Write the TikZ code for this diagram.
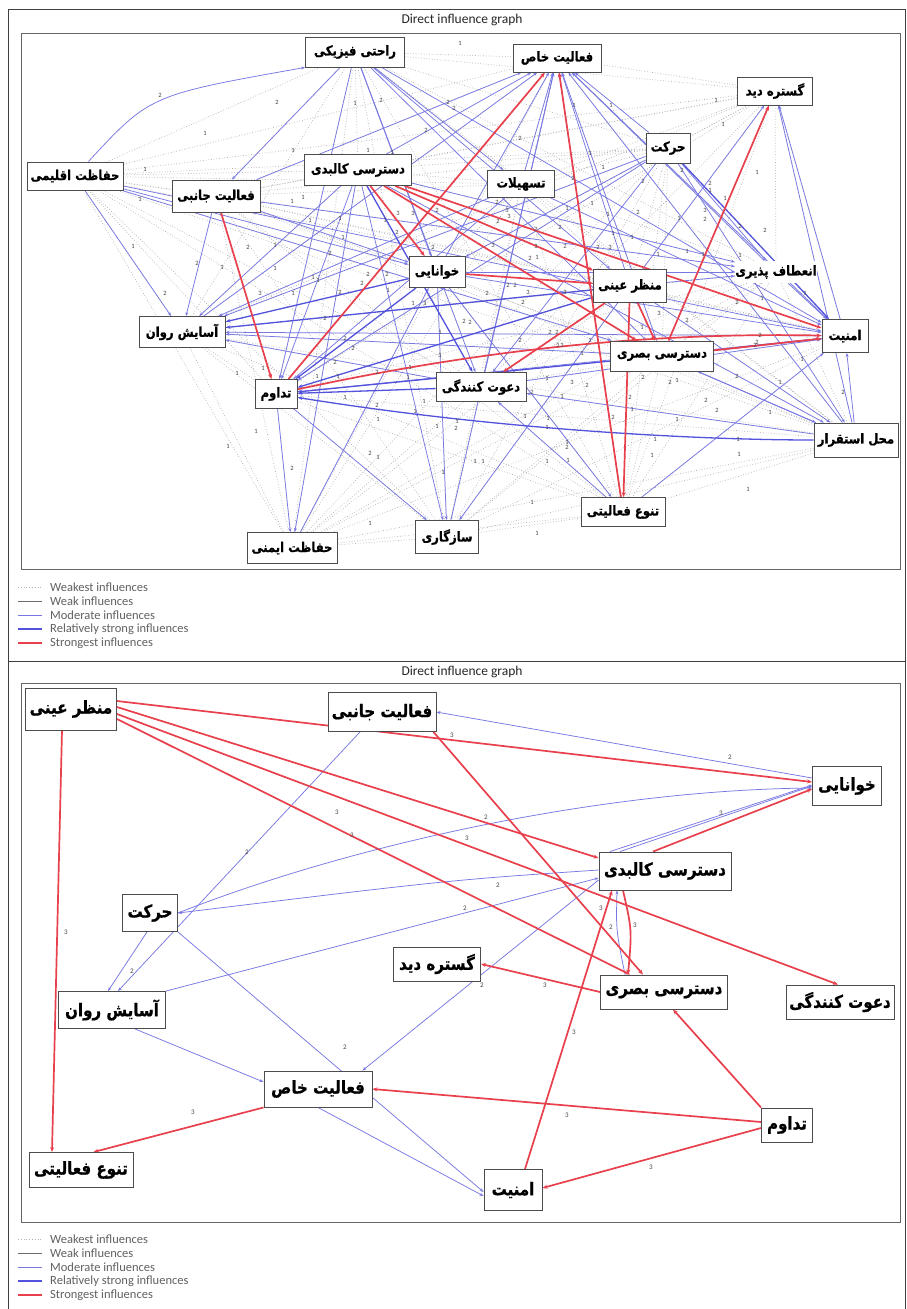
\documentclass[tikz,border=0pt]{standalone}
\usepackage{fontspec}
\setmainfont{Carlito}
\newfontfamily\fa[Script=Arabic,FakeStretch=0.86,BoldFeatures={FakeBold=0.8}]{DejaVu Sans}
\TeXXeTstate=1
\usetikzlibrary{arrows.meta}
\pgfdeclarelayer{bg}\pgfdeclarelayer{edges}\pgfsetlayers{bg,edges,main}
\definecolor{redE}{RGB}{232,64,76}
\definecolor{blueM}{RGB}{120,120,228}
\definecolor{blueS}{RGB}{82,82,220}
\definecolor{grayW}{RGB}{178,178,178}
\definecolor{grayK}{RGB}{110,110,110}
\definecolor{lblc}{RGB}{70,70,70}
\tikzset{
 box/.style={draw=black!70, line width=0.9pt, fill=white, inner sep=0pt, font=\fa\bfseries\fontsize{13.5}{13.5}\selectfont},
 bbox/.style={box, font=\fa\bfseries\fontsize{17.5}{17.5}\selectfont},
 weakest/.style={draw=grayW, dotted, line width=0.7pt},
 moderate/.style={draw=blueM, line width=0.75pt, -{Stealth[length=4pt,width=3pt]}},
 strongish/.style={draw=blueS, line width=1.3pt, -{Stealth[length=5pt,width=3.5pt]}},
 strongest/.style={draw=redE, line width=1.7pt, -{Stealth[length=5pt,width=4pt]}},
 lbl/.style={font=\fontsize{6.5}{6.5}\selectfont, text=lblc, inner sep=0.5pt},
 blbl/.style={font=\fontsize{7}{7}\selectfont, text=lblc, inner sep=0.5pt},
 legtxt/.style={anchor=west, font=\fontsize{12.5}{12.5}\selectfont, text=black!62, inner sep=0pt},
 ttl/.style={font=\fontsize{13.5}{13.5}\selectfont, text=black!85, inner sep=0pt},
}
\begin{document}
\begin{tikzpicture}[x=1pt,y=-1pt]
\useasboundingbox (0,0) rectangle (907,1309);
% ---------------- top panel nodes
\node[box, minimum width=99pt, minimum height=30pt] (A) at (355,52) {\beginR راحتی فیزیکی\endR};
\node[box, minimum width=88pt, minimum height=28pt] (B) at (557,58) {\beginR فعالیت خاص\endR};
\node[box, minimum width=75pt, minimum height=28pt] (C) at (775,91) {\beginR گستره دید\endR};
\node[box, minimum width=44pt, minimum height=30pt] (D) at (668,148) {\beginR حرکت\endR};
\node[box, minimum width=67pt, minimum height=27pt] (E) at (521,184) {\beginR تسهیلات\endR};
\node[box, minimum width=96pt, minimum height=28pt] (F) at (75,176) {\beginR حفاظت اقلیمی\endR};
\node[box, minimum width=88pt, minimum height=32pt] (G) at (216,196) {\beginR فعالیت جانبی\endR};
\node[box, minimum width=107pt, minimum height=31pt] (H) at (358,170) {\beginR دسترسی کالبدی\endR};
\node[box, minimum width=56pt, minimum height=31pt] (I) at (437,272) {\beginR خوانایی\endR};
\node[box, minimum width=73pt, minimum height=33pt] (J) at (630,286) {\beginR منظر عینی\endR};
\node[box, draw=none, minimum width=80pt, minimum height=22pt] (K) at (776,272) {\beginR انعطاف پذیری\endR};
\node[box, minimum width=46pt, minimum height=33pt] (L) at (845,336) {\beginR امنیت\endR};
\node[box, minimum width=86pt, minimum height=31pt] (M) at (182,332) {\beginR آسایش روان\endR};
\node[box, minimum width=103pt, minimum height=30pt] (N) at (662,356) {\beginR دسترسی بصری\endR};
\node[box, minimum width=90pt, minimum height=29pt] (O) at (481,387) {\beginR دعوت کنندگی\endR};
\node[box, minimum width=42pt, minimum height=29pt] (P) at (276,394) {\beginR تداوم\endR};
\node[box, minimum width=84pt, minimum height=34pt] (Q) at (856,440) {\beginR محل استقرار\endR};
\node[box, minimum width=84pt, minimum height=29pt] (R) at (623,512) {\beginR تنوع فعالیتی\endR};
\node[box, minimum width=63pt, minimum height=33pt] (S) at (447,537) {\beginR سازگاری\endR};
\node[box, minimum width=90pt, minimum height=31pt] (T) at (292,548) {\beginR حفاظت ایمنی\endR};
% ---------------- bottom panel nodes
\node[bbox, minimum width=91pt, minimum height=42pt] (bJ) at (71,709) {\beginR منظر عینی\endR};
\node[bbox, minimum width=108pt, minimum height=39pt] (bG) at (382,712) {\beginR فعالیت جانبی\endR};
\node[bbox, minimum width=69pt, minimum height=39pt] (bI) at (847,786) {\beginR خوانایی\endR};
\node[bbox, minimum width=132pt, minimum height=38pt] (bH) at (665,871) {\beginR دسترسی کالبدی\endR};
\node[bbox, minimum width=55pt, minimum height=37pt] (bD) at (150,913) {\beginR حرکت\endR};
\node[bbox, minimum width=87pt, minimum height=34pt] (bC) at (437,964) {\beginR گستره دید\endR};
\node[bbox, minimum width=127pt, minimum height=34pt] (bN) at (664,992) {\beginR دسترسی بصری\endR};
\node[bbox, minimum width=108pt, minimum height=34pt] (bO) at (840,1002) {\beginR دعوت کنندگی\endR};
\node[bbox, minimum width=107pt, minimum height=37pt] (bM) at (112,1010) {\beginR آسایش روان\endR};
\node[bbox, minimum width=108pt, minimum height=36pt] (bB) at (318,1089) {\beginR فعالیت خاص\endR};
\node[bbox, minimum width=51pt, minimum height=34pt] (bP) at (787,1125) {\beginR تداوم\endR};
\node[bbox, minimum width=104pt, minimum height=35pt] (bR) at (81,1170) {\beginR تنوع فعالیتی\endR};
\node[bbox, minimum width=58pt, minimum height=41pt] (bL) at (513,1190) {\beginR امنیت\endR};
% ---------------- titles and legends
\node[ttl] (t1) at (462,20) {Direct influence graph};
\node[ttl] (t2) at (462,672) {Direct influence graph};
\foreach \y/\t [count=\i] in {587/Weakest influences, 601/Weak influences, 615/Moderate influences, 629/Relatively strong influences, 643/Strongest influences}{
  \node[legtxt] (lt\i) at (50,\y) {\t};
  \node[legtxt] (lb\i) at (50,\y+652) {\t};
}
\begin{pgfonlayer}{bg}
\fill[white] (0,0) rectangle (907,1309);
\draw[black!75, line width=1pt] (8,1309) -- (8,9) -- (905,9) -- (905,1309);
\draw[black!75, line width=1pt] (8,661) -- (905,661);
\draw[black!60, line width=1pt] (21,33) rectangle (900,569);
\draw[black!60, line width=1pt] (21,683) rectangle (900,1222);
\foreach \yy in {0,652}{
 \draw[grayW, dotted, line width=0.8pt] (18,587+\yy) -- (42,587+\yy);
 \draw[grayK, line width=0.7pt] (18,601+\yy) -- (42,601+\yy);
 \draw[blueM, line width=0.8pt] (18,615+\yy) -- (42,615+\yy);
 \draw[blueS, line width=1.5pt] (18,629+\yy) -- (42,629+\yy);
 \draw[redE, line width=1.5pt] (18,643+\yy) -- (42,643+\yy);
}
\end{pgfonlayer}
\begin{pgfonlayer}{edges}
% weakest (dotted) top
\foreach \a/\b in {A/B,A/F,A/G,A/H,A/I,A/M,A/P,A/T,A/S,A/O,A/K,A/C,A/E,A/D,A/Q,A/R,
 B/C,B/F,B/G,B/M,B/P,B/T,B/S,B/K,B/Q,B/E,B/I,B/O,B/N,B/L,
 C/D,C/E,C/I,C/J,C/K,C/L,C/Q,C/N,C/H,C/F,C/G,C/M,C/P,C/O,C/R,
 D/E,D/F,D/H,D/I,D/M,D/P,D/S,D/R,D/G,D/J,D/N,D/T,
 E/F,E/G,E/M,E/T,E/S,E/R,E/H,E/I,E/J,E/K,E/O,E/Q,
 F/G,F/H,F/M,F/P,F/T,F/O,F/N,F/J,F/K,F/Q,F/R,F/S,
 G/H,G/I,G/J,G/T,G/S,G/O,G/L,G/N,G/Q,G/R,
 H/M,H/T,H/K,H/Q,H/R,I/M,I/T,I/S,I/Q,I/R,J/M,J/T,J/S,J/Q,J/K,J/L,
 K/M,K/P,K/Q,K/S,K/R,K/L,K/N,K/O,K/T,L/M,L/T,L/S,L/R,L/O,M/P,M/T,M/S,M/O,M/N,M/Q,M/R,
 N/T,N/S,N/Q,N/O,N/R,O/T,O/S,O/R,O/Q,P/T,P/S,P/R,P/Q,Q/S,Q/T,Q/R,R/S,R/T,S/T}
 \draw[weakest] (\a) -- (\b);
% moderate top
\foreach \a/\b in {F/M,F/I,F/N,G/M,G/I,G/K,A/G,A/I,A/J,A/N,A/E,A/O,A/P,A/L,
 D/M,D/I,D/P,D/K,D/Q,D/B,D/O,E/B,E/P,E/M,E/L,H/B,H/K,H/T,H/P,H/M,H/Q,
 I/B,I/K,I/R,I/S,I/L,J/B,J/K,J/Q,J/S,J/C,K/B,K/L,L/M,L/P,L/C,L/B,N/M,N/B,N/Q,
 O/B,O/M,O/L,Q/O,P/T,P/S,Q/L,Q/B,Q/C,Q/N,R/B,R/L,R/O,H/S,S/B,G/B,M/B,F/L,T/I}
 \draw[moderate] (\a) -- (\b);
\draw[moderate] (F) .. controls (150,95) .. (A.south west);
% relatively strong top
\foreach \a/\b in {H/O,I/P,J/M,J/P,N/P,O/P,N/L,I/M,D/L}
 \draw[strongish] (\a) -- (\b);
\draw[strongish] (Q) .. controls (700,440) and (500,430) .. (P);
% strongest top
\foreach \a/\b in {H/J,H/L,H/N,H/I,P/B,G/P,R/B,J/R,N/C,I/J,J/O,J/N,N/L}
 \draw[strongest] (\a) -- (\b);
\draw[strongest] (P) .. controls (470,352) and (640,332) .. (L);
% labels top
\foreach \x/\y/\t in {460/43/1,160/95/2,277/102/2,355/103/1,381/100/2,448/102/2,454/108/2,574/105/1,611/105/1,716/100/1,205/133/1,293/150/1,368/150/1,392/152/1,426/130/2,145/169/1,140/199/1,292/201/1,303/197/1,310/220/1,340/218/1,343/237/1,385/220/1,398/213/3,413/213/3,437/210/2,397/232/2,433/247/2,248/247/2,275/245/1,330/253/2,368/274/2,387/274/2,197/263/2,222/267/1,275/268/1,133/246/1,362/283/2,313/277/1,318/280/1,340/292/2,260/293/3,293/293/1,165/293/2,388/290/1,325/318/2,345/338/2,413/303/1,425/303/1,440/332/1,
353/348/2,335/362/2,237/373/1,263/368/1,317/376/1,338/376/1,377/372/2,410/367/1,408/377/1,440/355/1,345/397/1,377/405/2,378/419/1,424/401/1,415/411/1,256/431/1,228/446/1,292/468/2,370/453/2,378/457/1,443/472/1,370/523/1,437/426/1,
723/124/1,520/138/2,590/153/1,603/167/1,573/178/2,643/181/2,682/170/2,710/183/2,710/190/1,757/172/1,725/198/1,497/202/2,507/210/3,509/216/3,498/221/2,536/229/2,560/227/2,567/208/1,592/203/1,638/212/2,608/214/1,679/218/1,705/210/3,705/219/2,740/226/2,765/230/2,613/233/1,632/237/1,493/245/3,536/246/3,565/246/2,598/247/2,610/247/3,530/258/2,537/257/1,658/254/1,687/251/1,703/254/1,740/255/1,508/285/2,515/285/2,528/292/3,523/302/2,565/292/3,470/322/2,487/293/2,737/302/2,762/298/1,805/293/1,659/313/3,687/320/2,520/340/2,550/332/2,557/332/2,590/340/1,642/327/1,760/335/2,757/342/2,464/321/2,
558/345/1,562/345/3,582/353/1,755/345/2,643/377/2,670/382/2,677/380/1,572/382/3,587/385/2,547/378/1,532/392/2,562/396/1,737/376/2,780/382/1,802/359/1,843/392/2,630/397/2,632/409/1,706/400/2,717/410/2,770/412/1,525/416/1,548/418/1,547/427/1,613/417/2,677/419/1,457/421/1,456/428/2,655/439/1,738/439/1,567/442/1,567/447/2,652/455/1,739/454/1,547/461/1,568/460/1,475/461/1,483/461/1,748/489/1,532/502/1,537/533/1}
 \node[lbl] at (\x,\y) {\t};
% ---------------- bottom panel edges
\draw[moderate] ([yshift=8pt]bI.west) -- (bG.east);
\draw[moderate] (bD.east) .. controls (350,845) and (600,790) .. ([yshift=-2pt]bI.west);
\draw[moderate] ([yshift=1pt]bH.west) .. controls (450,880) .. (bD.east);
\draw[moderate] (bM.north east) -- ([yshift=-7pt]bH.west);
\draw[moderate] ([xshift=-22pt]bG.south) -- ([xshift=6pt]bM.north);
\draw[moderate] ([xshift=-3pt]bD.south) -- ([xshift=-4pt]bM.north);
\draw[moderate] (bD.south east) -- ([yshift=-2pt]bL.west);
\draw[moderate] ([yshift=-9pt]bH.west) -- ([xshift=-10pt]bB.north east);
\draw[moderate] ([xshift=23pt]bM.south) -- ([yshift=7pt]bB.west);
\draw[moderate] (bB.south) -- ([yshift=-6pt]bL.west);
\draw[moderate] ([xshift=-39pt]bN.north) .. controls (616,930) .. ([xshift=-48pt]bH.south);
\draw[moderate] ([xshift=-55pt]bH.north) -- ([yshift=1pt]bI.west);
\draw[moderate] ([xshift=-45pt]bH.north) -- ([yshift=0pt]bI.west);
\draw[strongest] ([yshift=8pt]bJ.east) -- ([yshift=4pt]bI.west);
\draw[strongest] ([yshift=2pt]bJ.east) -- ([yshift=13pt]bH.west);
\draw[strongest] ([yshift=-10pt]bJ.east) -- ([xshift=-34pt]bN.north);
\draw[strongest] ([yshift=-5pt]bJ.east) -- ([xshift=-2pt]bO.north);
\draw[strongest] ([xshift=-9pt]bJ.south) -- ([xshift=-29pt]bR.north);
\draw[strongest] ([xshift=-3pt]bG.south east) -- ([xshift=-21pt]bN.north);
\draw[strongest] ([xshift=-12pt]bH.north) -- ([yshift=-3pt]bI.west);
\draw[strongest] (bN.west) -- (bC.east);
\draw[strongest] ([xshift=-42pt]bH.south) .. controls (632,930) .. ([xshift=-36pt]bN.north);
\draw[strongest] ([xshift=12pt]bL.north) -- ([xshift=-53pt]bH.south);
\draw[strongest] (bP.north west) -- ([xshift=9pt]bN.south);
\draw[strongest] ([yshift=3pt]bP.west) -- (bB.east);
\draw[strongest] ([yshift=-3pt]bP.west) -- ([yshift=2pt]bL.east);
\draw[strongest] (bB.south west) -- ([xshift=-40pt]bR.north east);
\foreach \x/\y/\t in {452/735/3,730/757/2,337/812/3,352/835/3,486/817/2,467/838/3,247/852/2,498/885/2,465/908/2,721/813/3,601/908/3,611/927/2,635/925/3,66/932/3,132/971/2,482/985/2,545/985/3,345/1047/2,574/1032/3,193/1112/3,567/1115/3,651/1167/3}
 \node[blbl] at (\x,\y) {\t};
\end{pgfonlayer}
\end{tikzpicture}
\end{document}
